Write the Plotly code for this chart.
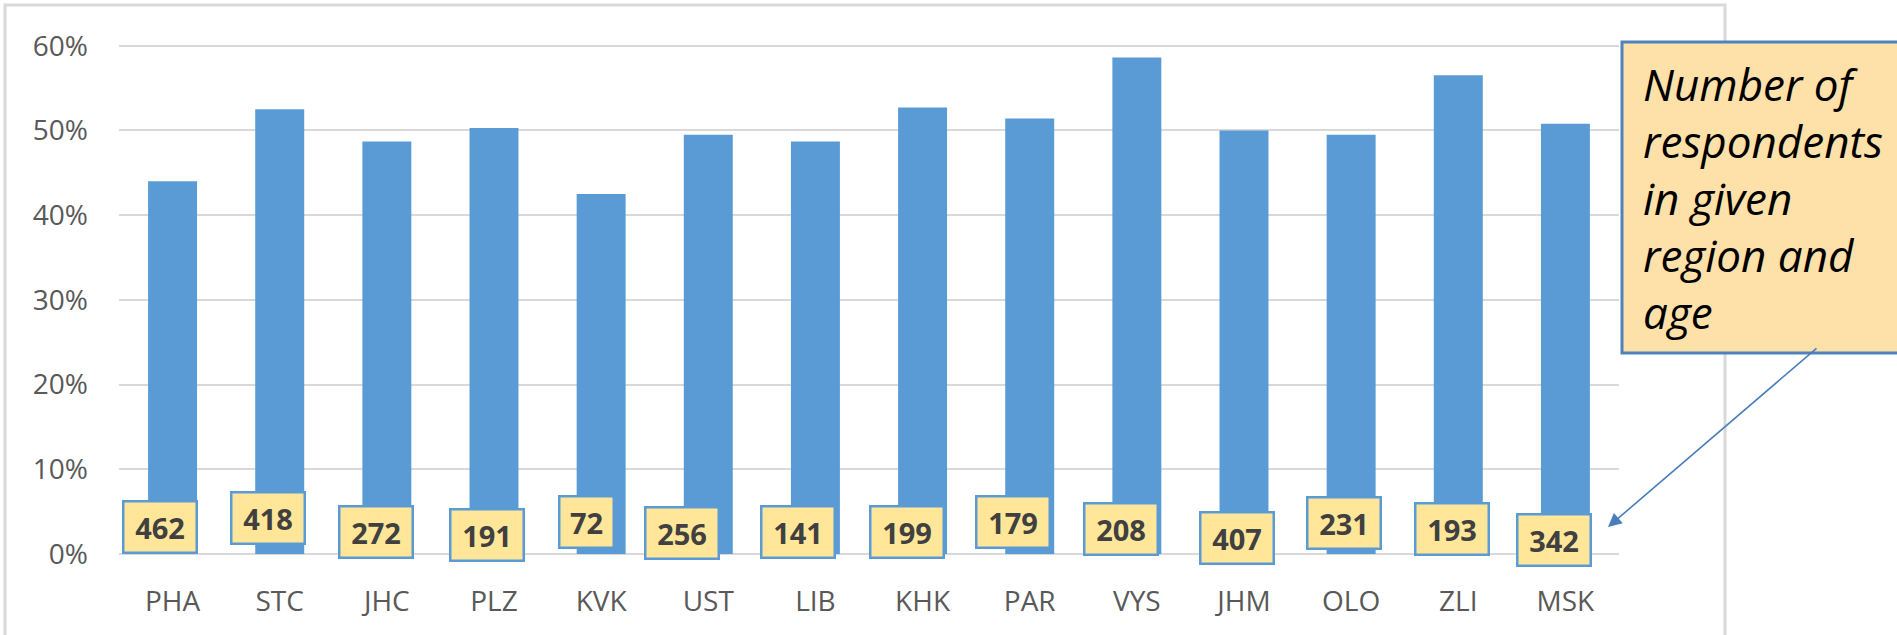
import plotly.graph_objects as go

regions = ["PHA", "STC", "JHC", "PLZ", "KVK", "UST", "LIB", "KHK", "PAR", "VYS", "JHM", "OLO", "ZLI", "MSK"]
share_pct = [44.0, 52.5, 48.7, 50.3, 42.5, 49.5, 48.7, 52.7, 51.4, 58.6, 50.0, 49.5, 56.5, 50.8]
respondents = [462, 418, 272, 191, 72, 256, 141, 199, 179, 208, 407, 231, 193, 342]
callout_lines = ["Number of", "respondents", "in given", "region and", "age"]

# label box placement (pixel shifts, style only)
label_dx = [-13, -12, -11, -7, -15, -26, -17, -16, -17, -16, -7, -7, -6, -11]
label_dy = [27, 36, 22, 19, 32, 21, 22, 22, 32, 25, 16, 31, 25, 14]

W, H = 1897, 635
L, R, T, B = 119, 278, 30, 81
PH = H - T - B  # plot height
px_per_pct = (554 - 45.7) / 60.0
ytop = 60 + (45.7 - T) / px_per_pct


def px(xp):
    return (xp - L) / (W - L - R)


def py(yp):
    return (554 - yp) / PH


fig = go.Figure()
fig.add_trace(go.Bar(
    x=regions, y=share_pct,
    marker=dict(color="#5B9BD5", line=dict(width=0)),
    hoverinfo="skip",
))

annotations = []
for r, n, dx, dy in zip(regions, respondents, label_dx, label_dy):
    w = 52 if n < 100 else 71
    annotations.append(dict(
        x=r, y=0, xref="x", yref="y", text=f"<b>{n}</b>", showarrow=False,
        xanchor="center", yanchor="middle", xshift=dx, yshift=dy,
        width=w, height=49, bgcolor="#FFE699", bordercolor="#5B9BD5",
        borderwidth=2.5, borderpad=0,
        font=dict(family="Open Sans", size=29, color="#404040"),
    ))

# callout arrow
annotations.append(dict(
    x=px(1608), y=py(527), xref="paper", yref="paper", text="",
    showarrow=True, ax=210, ay=-180, axref="pixel", ayref="pixel",
    arrowhead=2, arrowsize=1.7, arrowwidth=1.6, arrowcolor="#4A7EBB", standoff=0,
))
# callout text, one line per annotation
for i, line in enumerate(callout_lines):
    baseline = 98 + 57 * i
    annotations.append(dict(
        x=px(1641), y=py(baseline - 14), xref="paper", yref="paper",
        text=f"<i>{line}</i>",
        showarrow=False, xanchor="left", yanchor="middle", align="left",
        font=dict(family="Open Sans", size=44, color="#000000"),
    ))

shapes = [
    dict(type="rect", xref="paper", yref="paper", x0=px(5), x1=px(1725), y0=py(660), y1=py(5),
         line=dict(color="#D9D9D9", width=3), fillcolor="rgba(0,0,0,0)", layer="below"),
    dict(type="rect", xref="paper", yref="paper", x0=px(1622), x1=px(1920), y0=py(353), y1=py(42),
         line=dict(color="#4F81BD", width=3), fillcolor="#FDE1A9", layer="above"),
]

fig.update_layout(
    width=W, height=H,
    margin=dict(l=L, r=R, t=T, b=B, pad=0),
    paper_bgcolor="white", plot_bgcolor="white",
    showlegend=False,
    bargap=0.543,
    annotations=annotations,
    shapes=shapes,
    xaxis=dict(
        type="category", showgrid=False, showline=False, zeroline=False,
        tickfont=dict(family="Open Sans", size=28, color="#595959"),
        ticks="", ticklabelstandoff=28,
    ),
    yaxis=dict(
        range=[0, ytop], dtick=10, ticksuffix="%",
        showgrid=True, gridcolor="#D9D9D9", gridwidth=1.5,
        zeroline=True, zerolinecolor="#D9D9D9", zerolinewidth=1.5,
        showline=False, ticks="",
        tickfont=dict(family="Open Sans", size=28, color="#595959"),
        ticklabelstandoff=30,
    ),
)

fig.write_html(
    "out.html",
    config={"displayModeBar": False},
    post_script="document.body.style.margin='0';document.body.style.overflow='hidden';",
)
